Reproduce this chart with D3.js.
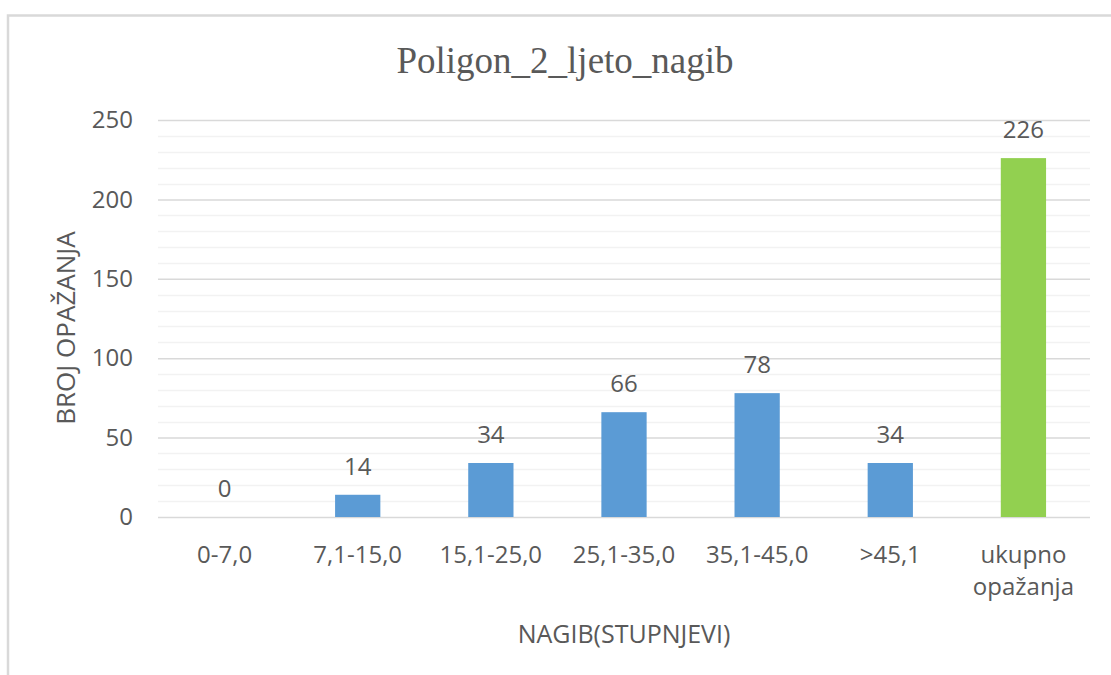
<!DOCTYPE html>
<html>
<head>
<meta charset="utf-8">
<script src="https://cdn.jsdelivr.net/npm/d3@7"></script>
<style>
  body { margin: 0; background: #fff; }
  text { fill: #595959; font-family: "Open Sans", sans-serif; }
</style>
</head>
<body>
<div id="chart"></div>
<script>
// data
var categories = ["0-7,0", "7,1-15,0", "15,1-25,0", "25,1-35,0", "35,1-45,0", ">45,1", "ukupno opažanja"];
var values = [0, 14, 34, 66, 78, 34, 226];
var yTicks = [0, 50, 100, 150, 200, 250];

var width = 1111,
    height = 675,
    mLeft = 158, mRight = 1090, mTop = 120, mBottom = 517;

var svg = d3.select("#chart").append("svg")
    .attr("width", width)
    .attr("height", height);

// chart frame (cut off on the right and bottom)
svg.append("rect")
    .attr("x", 8).attr("y", 15.5)
    .attr("width", 1200).attr("height", 800)
    .attr("fill", "#fff")
    .attr("stroke", "#d9d9d9")
    .attr("stroke-width", 2.5);

var x = d3.scaleBand()
    .domain(categories)
    .range([mLeft, mRight])
    .paddingInner(0.66)
    .paddingOuter(0.33);

var y = d3.scaleLinear()
    .domain([0, 250])
    .range([mBottom, mTop]);

// minor gridlines every 10
svg.append("g").selectAll("line")
    .data(d3.range(0, 251, 10).filter(function(d) { return d % 50 != 0; }))
    .enter().append("line")
    .attr("x1", mLeft).attr("x2", mRight)
    .attr("y1", function(d) { return Math.round(y(d)) + 0.5; })
    .attr("y2", function(d) { return Math.round(y(d)) + 0.5; })
    .attr("stroke", "#f2f2f2")
    .attr("stroke-width", 1.5);

// major gridlines + tick labels
var yAxis = svg.append("g")
    .attr("transform", "translate(" + mLeft + ",0)")
    .call(d3.axisLeft(y).tickValues(yTicks).tickSize(-(mRight - mLeft)).tickPadding(25));
yAxis.select(".domain").remove();
yAxis.selectAll(".tick line").attr("stroke", "#d9d9d9").attr("stroke-width", 1.5);
yAxis.selectAll(".tick text")
    .style("font-size", "24px")
    .style("font-family", "'Open Sans', sans-serif")
    .attr("fill", "#595959");

// bars
svg.append("g").selectAll("rect")
    .data(values)
    .enter().append("rect")
    .attr("x", function(d, i) { return x(categories[i]); })
    .attr("y", function(d) { return y(d); })
    .attr("width", x.bandwidth())
    .attr("height", function(d) { return y(0) - y(d); })
    .attr("fill", function(d, i) { return i == categories.length - 1 ? "#92d050" : "#5b9bd5"; });

// value labels
svg.append("g").selectAll("text")
    .data(values)
    .enter().append("text")
    .attr("x", function(d, i) { return x(categories[i]) + x.bandwidth() / 2; })
    .attr("y", function(d) { return y(d) - 20; })
    .attr("text-anchor", "middle")
    .style("font-size", "24px")
    .text(function(d) { return d; });

// category labels
var xl = svg.append("g").selectAll("text")
    .data(categories)
    .enter().append("text")
    .attr("x", function(d) { return x(d) + x.bandwidth() / 2; })
    .attr("y", 563)
    .attr("text-anchor", "middle")
    .style("font-size", "24px");
xl.each(function(d) {
    var words = d.split(" ");
    var t = d3.select(this);
    words.forEach(function(w, i) {
        t.append("tspan")
            .attr("x", t.attr("x"))
            .attr("dy", i == 0 ? 0 : 32)
            .text(w);
    });
});

// title
svg.append("text")
    .attr("x", 565)
    .attr("y", 73)
    .attr("text-anchor", "middle")
    .style("font-family", "'Liberation Serif', 'Times New Roman', serif")
    .style("font-size", "37px")
    .text("Poligon_2_ljeto_nagib");

// axis titles
svg.append("text")
    .attr("x", (mLeft + mRight) / 2)
    .attr("y", 643)
    .attr("text-anchor", "middle")
    .style("font-size", "25px")
    .text("NAGIB(STUPNJEVI)");

svg.append("text")
    .attr("transform", "translate(75,328) rotate(-90)")
    .attr("text-anchor", "middle")
    .style("font-size", "26px")
    .text("BROJ OPAŽANJA");
</script>
</body>
</html>
